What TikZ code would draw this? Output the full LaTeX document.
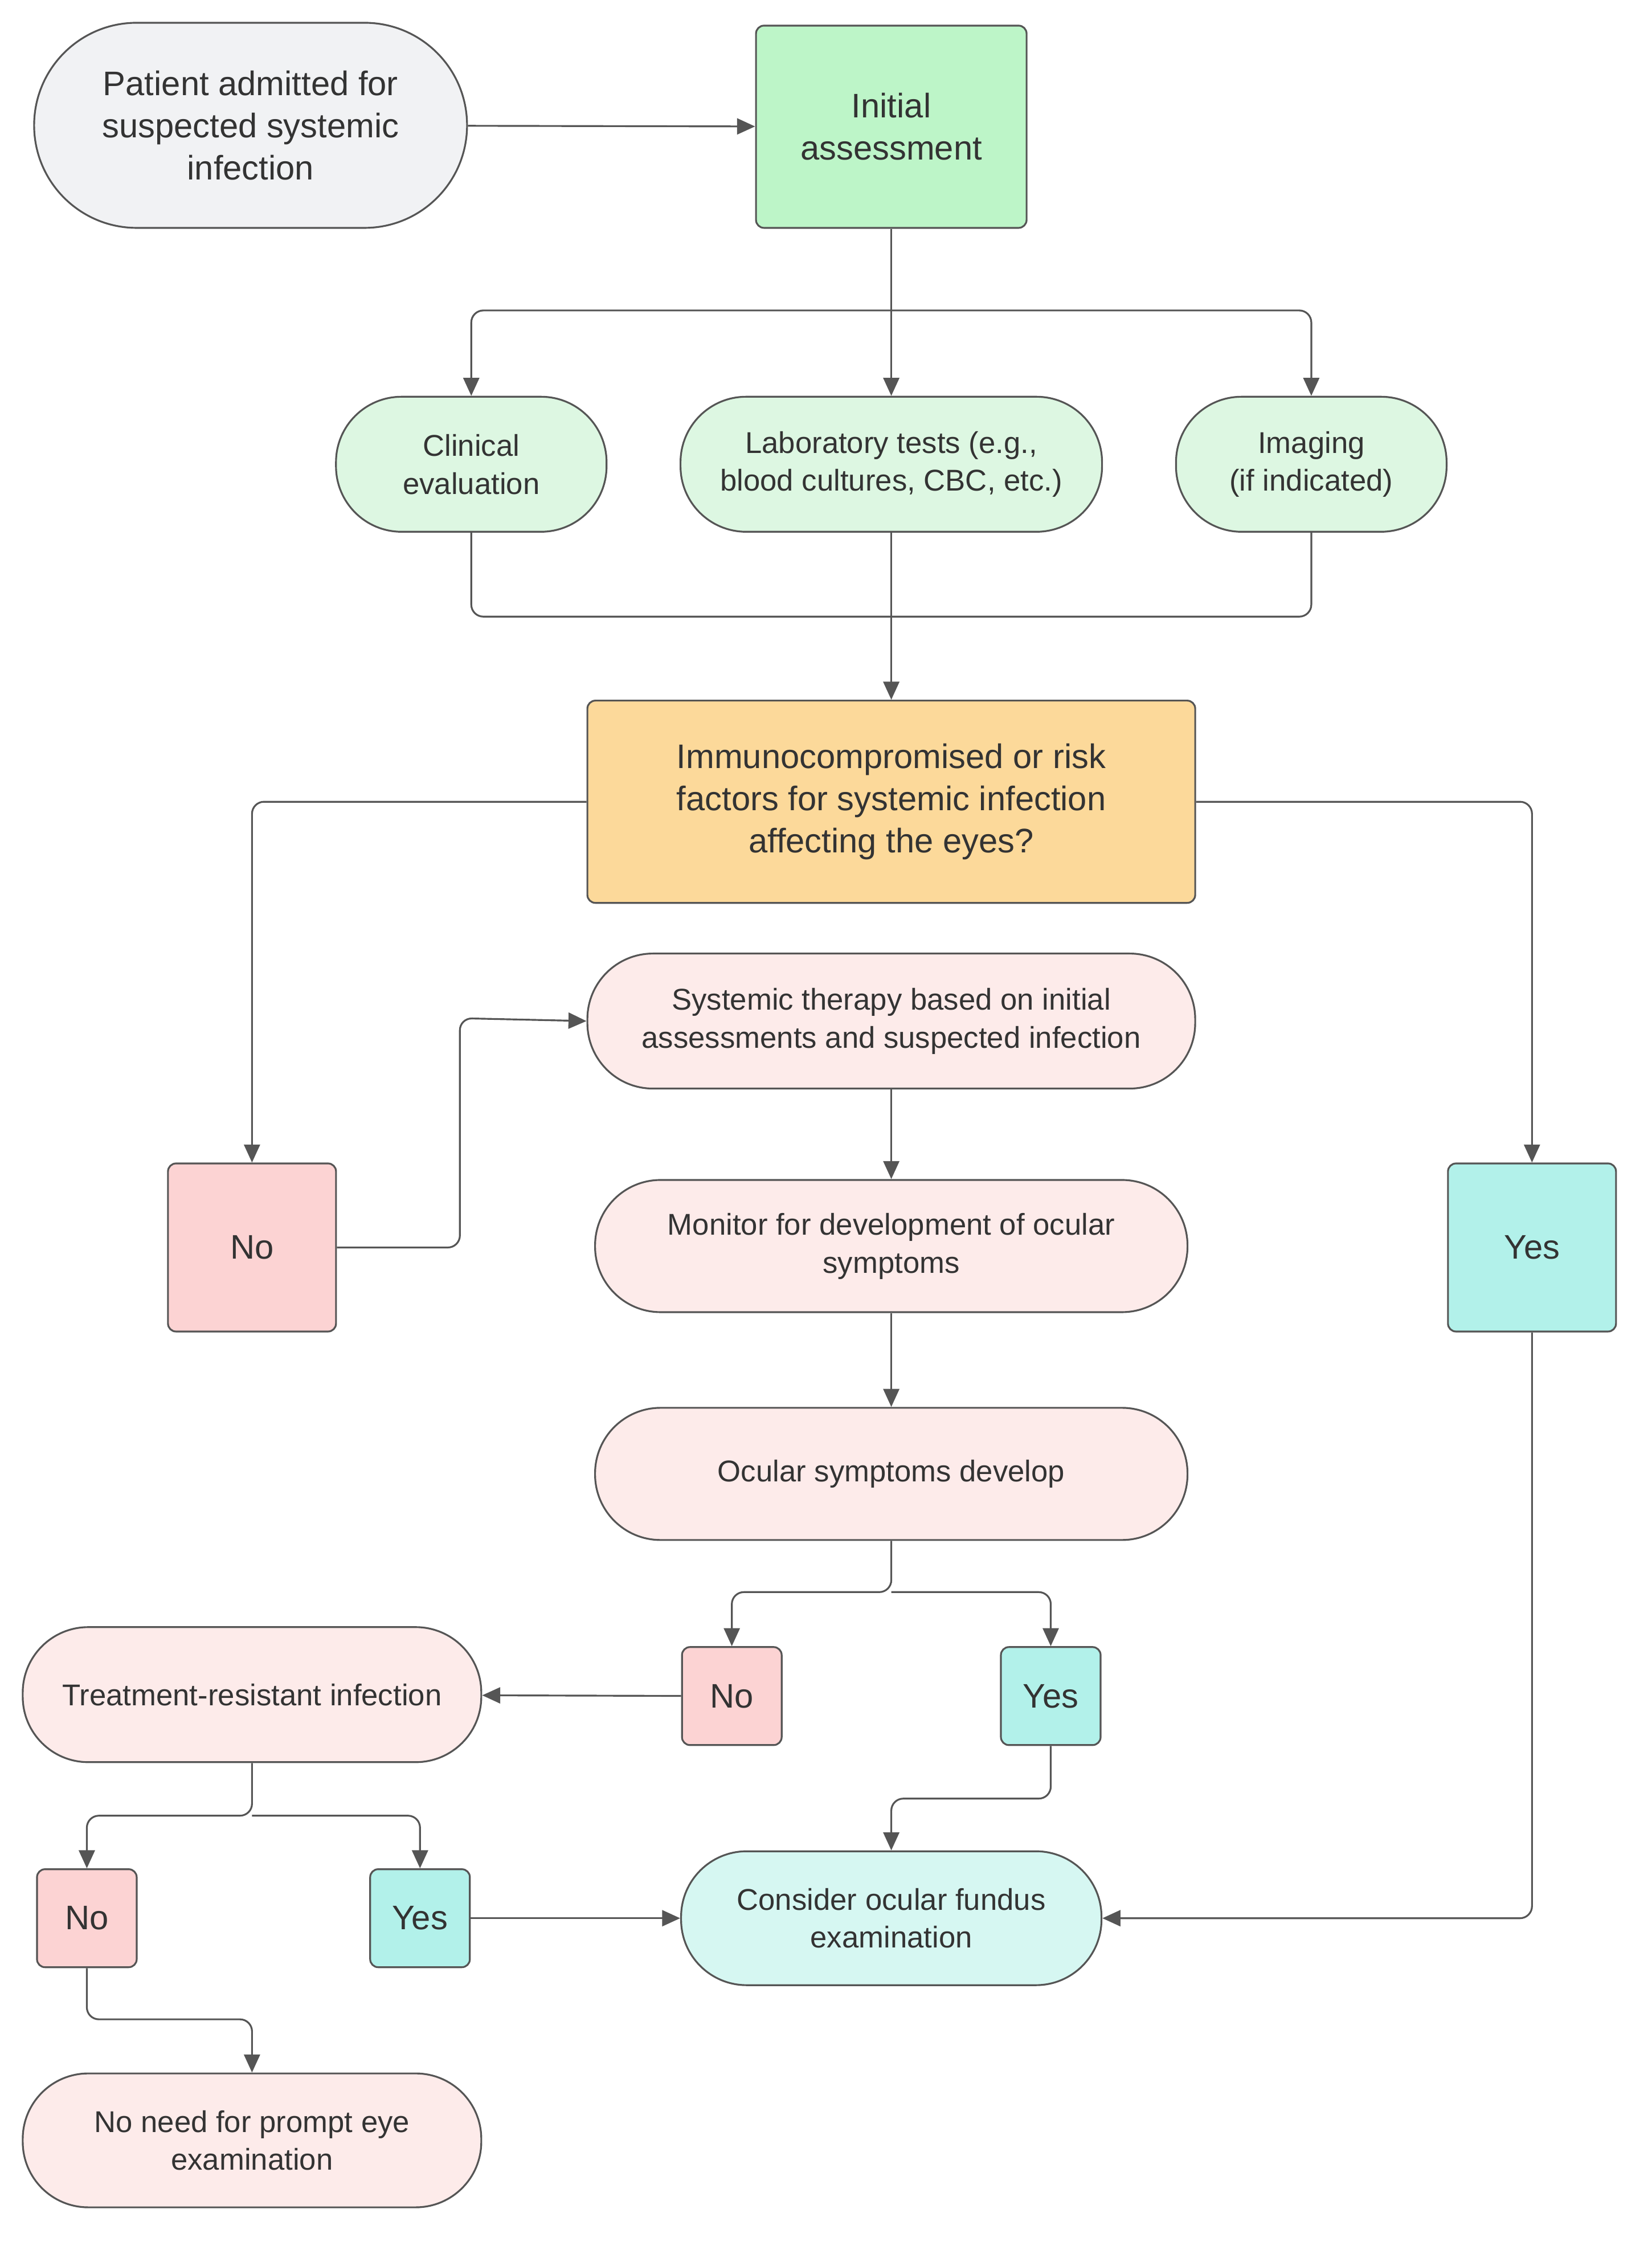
\documentclass[tikz,border=0pt]{standalone}
\usepackage{fontspec}
\setmainfont{Liberation Sans}
\usetikzlibrary{arrows.meta}
\definecolor{ln}{HTML}{555555}
\definecolor{gr}{HTML}{F1F2F4}
\definecolor{green1}{HTML}{BDF5C8}
\definecolor{green2}{HTML}{DDF7E2}
\definecolor{orng}{HTML}{FCD99A}
\definecolor{pink1}{HTML}{FCD3D3}
\definecolor{pink2}{HTML}{FDEBEA}
\definecolor{teal1}{HTML}{B2F1EA}
\definecolor{teal2}{HTML}{D6F7F2}
\begin{document}
\begin{tikzpicture}[x=0.025cm,y=-0.025cm,
 base/.style={draw=ln,line width=0.9pt,align=center,text=black!80,font=\fontsize{15}{19}\selectfont,inner sep=2pt},
 pill/.style={base,rounded corners=1.15cm},
 box/.style={base,rounded corners=4pt},
 arr/.style={draw=ln,line width=0.9pt,-{Triangle[length=9pt,width=8pt]},rounded corners=6pt},
 ln/.style={draw=ln,line width=0.9pt,rounded corners=6pt}]
\useasboundingbox (0,0) rectangle (1160,1580);
\node[pill,fill=gr,minimum width=7.6cm,minimum height=3.6cm,rounded corners=1.8cm,font=\fontsize{17}{21}\selectfont] (pat) at (176,88) {Patient admitted for\\suspected systemic\\infection};
\node[box,fill=green1,minimum width=4.75cm,minimum height=3.55cm,font=\fontsize{17}{21}\selectfont] (ia) at (626,89) {Initial\\assessment};
\node[pill,fill=green2,minimum width=4.75cm,minimum height=2.37cm] (ce) at (331,326) {Clinical\\evaluation};
\node[pill,fill=green2,minimum width=7.4cm,minimum height=2.37cm] (lab) at (626,326) {Laboratory tests (e.g.,\\blood cultures, CBC, etc.)};
\node[pill,fill=green2,minimum width=4.75cm,minimum height=2.37cm] (img) at (921,326) {Imaging\\(if indicated)};
\node[box,fill=orng,minimum width=10.67cm,minimum height=3.55cm,font=\fontsize{17}{21}\selectfont] (dec) at (626,563) {Immunocompromised or risk\\factors for systemic infection\\affecting the eyes?};
\node[box,fill=pink1,minimum width=2.95cm,minimum height=2.95cm,font=\fontsize{17}{21}\selectfont] (no1) at (177,876) {No};
\node[box,fill=teal1,minimum width=2.95cm,minimum height=2.95cm,font=\fontsize{17}{21}\selectfont] (yes1) at (1076,876) {Yes};
\node[pill,fill=pink2,minimum width=10.67cm,minimum height=2.37cm] (sys) at (626,717) {Systemic therapy based on initial\\assessments and suspected infection};
\node[pill,fill=pink2,minimum width=10.4cm,minimum height=2.32cm] (mon) at (626,875) {Monitor for development of ocular\\symptoms};
\node[pill,fill=pink2,minimum width=10.4cm,minimum height=2.32cm] (oc) at (626,1035) {Ocular symptoms develop};
\node[box,fill=pink1,minimum width=1.75cm,minimum height=1.72cm,font=\fontsize{17}{21}\selectfont] (no2) at (514,1191) {No};
\node[box,fill=teal1,minimum width=1.75cm,minimum height=1.72cm,font=\fontsize{17}{21}\selectfont] (yes2) at (738,1191) {Yes};
\node[pill,fill=pink2,minimum width=8.05cm,minimum height=2.37cm] (tr) at (177,1190) {Treatment-resistant infection};
\node[box,fill=pink1,minimum width=1.75cm,minimum height=1.72cm,font=\fontsize{17}{21}\selectfont] (no3) at (61,1347) {No};
\node[box,fill=teal1,minimum width=1.75cm,minimum height=1.72cm,font=\fontsize{17}{21}\selectfont] (yes3) at (295,1347) {Yes};
\node[pill,fill=teal2,minimum width=7.38cm,minimum height=2.35cm] (con) at (626,1347) {Consider ocular fundus\\examination};
\node[pill,fill=pink2,minimum width=8.05cm,minimum height=2.35cm] (nn) at (177,1503) {No need for prompt eye\\examination};
\coordinate (b1) at (626,218);
\coordinate (m1) at (626,433);
\draw[arr] (pat) -- (ia);
\draw[ln] (ia) -- (b1);
\draw[arr] (b1) -| (ce);
\draw[arr] (b1) -- (lab);
\draw[arr] (b1) -| (img);
\draw[ln] (ce) |- (m1);
\draw[ln] (img) |- (m1);
\draw[arr] (lab) -- (dec);
\draw[arr] (dec.west) -| (no1);
\draw[arr] (dec.east) -| (yes1);
\draw[arr] (no1.east) -- (323,876) -- (323,715) -- (sys.west);
\draw[arr] (sys) -- (mon);
\draw[arr] (mon) -- (oc);
\draw[arr] (oc.south) -- (626,1118) -| (no2);
\draw[arr] (626,1118) -| (yes2);
\draw[arr] (no2) -- (tr);
\draw[arr] (tr.south) -- (177,1275) -| (no3);
\draw[arr] (177,1275) -| (yes3);
\draw[arr] (yes2.south) -- (738,1263) -| (con);
\draw[arr] (yes3) -- (con);
\draw[arr] (yes1.south) |- (con.east);
\draw[arr] (no3.south) -- (61,1418) -| (nn);
\end{tikzpicture}
\end{document}
